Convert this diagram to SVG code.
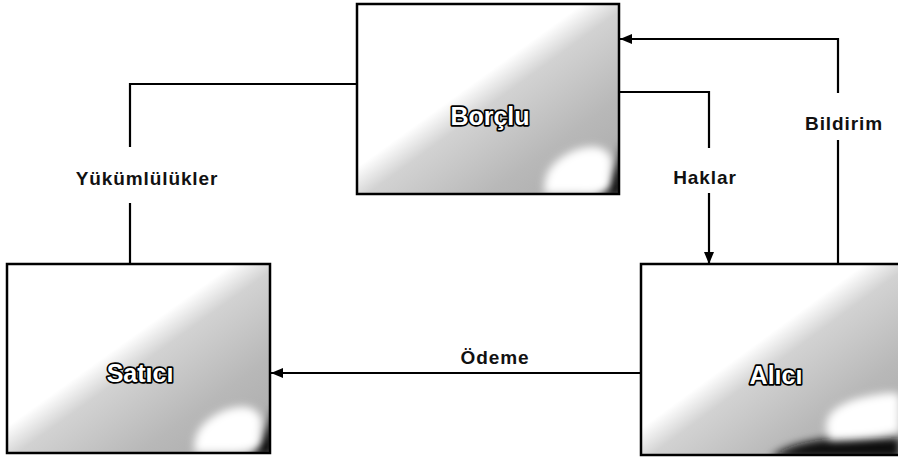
<svg xmlns="http://www.w3.org/2000/svg" width="898" height="460" viewBox="0 0 898 460">
  <defs>
    <style>
      .box { stroke: #000; stroke-width: 2.5; }
      .name { font-family: "Liberation Sans", Arial, sans-serif; font-weight: bold; font-size: 25px; fill: #fff; stroke: #000; stroke-width: 3.4; paint-order: stroke; stroke-linejoin: round; text-anchor: middle; }
      .lbl { font-family: "Liberation Sans", Arial, sans-serif; font-weight: bold; font-size: 19px; fill: #111; letter-spacing: 0.9px; text-anchor: middle; }
      .wire { fill: none; stroke: #000; stroke-width: 2.2; }
    </style>
    <!-- white upper-left half fading into grey towards the lower-right corner -->
    <linearGradient id="shade" x1="0" y1="0" x2="1" y2="1">
      <stop offset="0" stop-color="#fff"/>
      <stop offset="0.43" stop-color="#fff"/>
      <stop offset="0.52" stop-color="#d2d2d2"/>
      <stop offset="0.75" stop-color="#b8b8b8"/>
      <stop offset="1" stop-color="#a9a9a9"/>
    </linearGradient>
    <filter id="soft" x="-30%" y="-30%" width="160%" height="160%">
      <feGaussianBlur stdDeviation="4"/>
    </filter>
    <marker id="arrow" viewBox="0 0 12 10" refX="12" refY="5" markerWidth="12" markerHeight="10" markerUnits="userSpaceOnUse" orient="auto">
      <path d="M0,0 L12,5 L0,10 Z" fill="#000"/>
    </marker>
    <clipPath id="clipBorclu"><rect x="357" y="4" width="262" height="190"/></clipPath>
    <clipPath id="clipSatici"><rect x="7" y="264" width="263" height="189"/></clipPath>
    <clipPath id="clipAlici"><rect x="641" y="264" width="260" height="191"/></clipPath>
  </defs>

  <rect width="898" height="460" fill="#fff"/>

  <!-- connectors -->
  <g id="connectors">
    <!-- Yükümlülükler: Borçlu to Satıcı -->
    <path class="wire" d="M357,84 H130 V147"/>
    <path class="wire" d="M130,203 V264"/>
    <text class="lbl" x="147" y="185">Yükümlülükler</text>

    <!-- Haklar: Borçlu to Alıcı -->
    <path class="wire" d="M619,92 H709 V148"/>
    <path class="wire" d="M709,193 V264" marker-end="url(#arrow)"/>
    <text class="lbl" x="705" y="184">Haklar</text>

    <!-- Bildirim: Alıcı to Borçlu -->
    <path class="wire" d="M838,264 V140"/>
    <path class="wire" d="M838,93 V39 H620" marker-end="url(#arrow)"/>
    <text class="lbl" x="844" y="130">Bildirim</text>

    <!-- Ödeme: Alıcı to Satıcı -->
    <path class="wire" d="M641,373 H271" marker-end="url(#arrow)"/>
    <text class="lbl" x="495" y="364">Ödeme</text>
  </g>

  <!-- Borçlu -->
  <g id="borclu">
    <g clip-path="url(#clipBorclu)">
      <rect x="357" y="4" width="262" height="190" fill="url(#shade)"/>
      <path d="M596,196 L622,196 L622,140 Q615,180 596,196 Z" fill="#000" filter="url(#soft)"/>
      <path d="M545,194 Q540,165 575,150 Q605,140 612,160 L610,188 Q600,196 580,194 Z" fill="#fff" filter="url(#soft)"/>
    </g>
    <rect class="box" x="357" y="4" width="262" height="190" fill="none"/>
    <text class="name" x="490" y="125">Borçlu</text>
  </g>

  <!-- Satıcı -->
  <g id="satici">
    <g clip-path="url(#clipSatici)">
      <rect x="7" y="264" width="263" height="189" fill="url(#shade)"/>
      <path d="M250,455 L273,455 L273,405 Q266,440 250,455 Z" fill="#000" filter="url(#soft)"/>
      <path d="M195,453 Q190,425 225,410 Q255,400 262,420 L260,445 Q250,454 230,453 Z" fill="#fff" filter="url(#soft)"/>
    </g>
    <rect class="box" x="7" y="264" width="263" height="189" fill="none"/>
    <text class="name" x="140" y="382">Satıcı</text>
  </g>

  <!-- Alıcı -->
  <g id="alici">
    <g clip-path="url(#clipAlici)">
      <rect x="641" y="264" width="260" height="191" fill="url(#shade)"/>
      <path d="M770,458 Q800,432 900,438 L900,458 Z" fill="#111" filter="url(#soft)"/>
      <path d="M830,440 Q815,410 860,398 Q895,390 900,395 L900,432 Q870,440 830,440 Z" fill="#fff" filter="url(#soft)"/>
    </g>
    <rect class="box" x="641" y="264" width="262" height="191" fill="none"/>
    <text class="name" x="776" y="384">Alıcı</text>
  </g>
</svg>
